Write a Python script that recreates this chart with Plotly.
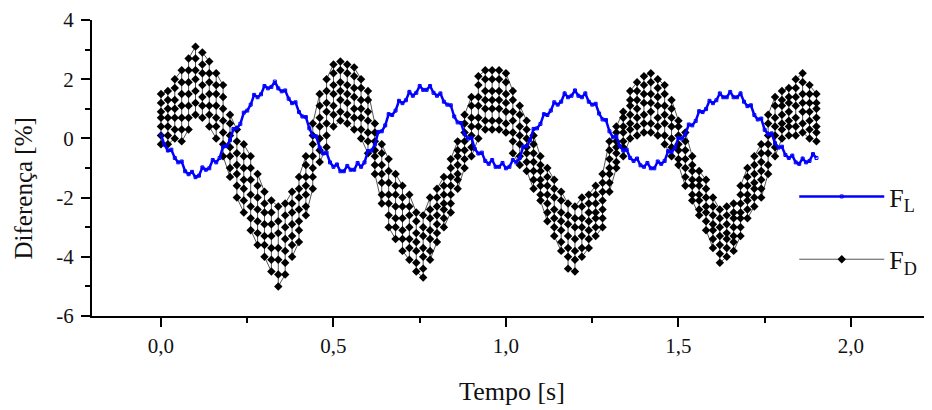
import plotly.graph_objects as go

# ---------------- data ----------------
fl_t_step = 0.01          # F_L sampled every 0.01 s, from t = 0
fl_values = [
    0.12, -0.21, -0.41, -0.38, -0.66, -0.81, -0.78, -1.11, -1.21, -1.13,
    -1.31, -1.26, -0.98, -1.06, -1.01, -0.73, -0.81, -0.66, -0.28, -0.26,
    -0.06, 0.32, 0.34, 0.49, 0.87, 0.94, 1.14, 1.47, 1.39, 1.49,
    1.77, 1.69, 1.74, 1.92, 1.69, 1.59, 1.62, 1.34, 1.19, 1.22,
    0.89, 0.74, 0.72, 0.34, 0.09, 0.07, -0.31, -0.51, -0.48, -0.81,
    -0.96, -0.88, -1.11, -1.11, -0.93, -1.06, -1.06, -0.83, -0.96, -0.81,
    -0.43, -0.41, -0.21, 0.22, 0.24, 0.44, 0.82, 0.79, 0.94, 1.27,
    1.19, 1.29, 1.57, 1.44, 1.54, 1.77, 1.64, 1.64, 1.77, 1.54,
    1.44, 1.52, 1.24, 1.14, 1.12, 0.74, 0.54, 0.52, 0.14, -0.01,
    0.02, -0.36, -0.51, -0.48, -0.76, -0.86, -0.73, -0.96, -0.96, -0.83,
    -1.01, -0.96, -0.73, -0.81, -0.66, -0.28, -0.26, -0.06, 0.32, 0.34,
    0.49, 0.82, 0.79, 0.94, 1.22, 1.14, 1.24, 1.52, 1.39, 1.44,
    1.62, 1.44, 1.39, 1.52, 1.24, 1.14, 1.17, 0.84, 0.64, 0.62,
    0.24, 0.04, 0.07, -0.26, -0.41, -0.38, -0.66, -0.76, -0.68, -0.91,
    -0.96, -0.83, -1.01, -1.01, -0.78, -0.86, -0.76, -0.43, -0.46, -0.31,
    0.02, -0.01, 0.14, 0.47, 0.44, 0.59, 0.92, 0.89, 0.99, 1.27,
    1.19, 1.29, 1.52, 1.39, 1.39, 1.57, 1.39, 1.39, 1.52, 1.24,
    1.09, 1.12, 0.79, 0.64, 0.67, 0.29, 0.14, 0.17, -0.16, -0.31,
    -0.28, -0.56, -0.66, -0.58, -0.81, -0.86, -0.68, -0.81, -0.76, -0.53,
    -0.66,
]

fd_t_step = 0.02          # F_D: samples grouped in columns every 0.02 s, from t = 0
fd_columns = [  # each column listed top -> bottom
    [1.5, 1.2, 0.9, 0.7, 0.4, 0.1, -0.2], [1.6, 1.3, 1.0, 0.7, 0.4, 0.1, -0.2],
    [2.0, 1.7, 1.3, 1.0, 0.7, 0.3, 0.0], [2.3, 1.9, 1.5, 1.1, 0.7, 0.3, -0.1],
    [2.7, 2.3, 1.9, 1.5, 1.1, 0.7, 0.3], [3.1, 2.7, 2.3, 2.0, 1.6, 1.2, 0.8],
    [2.9, 2.5, 2.2, 1.8, 1.4, 1.1, 0.7], [2.6, 2.2, 1.9, 1.5, 1.1, 0.8, 0.4],
    [2.2, 1.8, 1.5, 1.1, 0.7, 0.4, 0.0], [1.8, 1.4, 1.0, 0.6, 0.2, -0.2, -0.6],
    [0.8, 0.5, 0.1, -0.3, -0.6, -1.0, -1.3], [0.3, -0.1, -0.5, -0.9, -1.2, -1.6, -2.0],
    [-0.2, -0.6, -1.0, -1.4, -1.7, -2.1, -2.5], [-0.6, -1.0, -1.4, -1.9, -2.3, -2.7, -3.1],
    [-1.2, -1.6, -2.0, -2.4, -2.8, -3.2, -3.6], [-1.8, -2.2, -2.5, -2.9, -3.3, -3.6, -4.0],
    [-2.1, -2.5, -2.9, -3.3, -3.7, -4.1, -4.5], [-2.3, -2.8, -3.2, -3.7, -4.1, -4.6, -5.0],
    [-2.2, -2.6, -3.0, -3.4, -3.8, -4.2, -4.6], [-1.8, -2.2, -2.5, -2.9, -3.3, -3.6, -4.0],
    [-1.3, -1.7, -2.0, -2.4, -2.8, -3.1, -3.5], [-0.6, -0.9, -1.3, -1.6, -1.9, -2.3, -2.6],
    [0.5, 0.1, -0.2, -0.6, -1.0, -1.3, -1.7], [1.5, 1.1, 0.7, 0.4, 0.0, -0.4, -0.8],
    [2.0, 1.6, 1.2, 0.9, 0.5, 0.1, -0.3], [2.5, 2.2, 1.8, 1.5, 1.1, 0.8, 0.4],
    [2.6, 2.3, 1.9, 1.6, 1.3, 0.9, 0.6], [2.5, 2.2, 1.8, 1.5, 1.2, 0.8, 0.5],
    [2.4, 2.1, 1.7, 1.4, 1.0, 0.7, 0.3], [2.0, 1.7, 1.3, 1.0, 0.7, 0.3, 0.0],
    [1.6, 1.3, 0.9, 0.6, 0.2, -0.1, -0.5], [0.5, 0.2, -0.1, -0.4, -0.6, -0.9, -1.2],
    [-0.2, -0.5, -0.9, -1.2, -1.5, -1.9, -2.2], [-0.7, -1.1, -1.5, -1.9, -2.2, -2.6, -3.0],
    [-1.2, -1.6, -1.9, -2.3, -2.7, -3.0, -3.4], [-1.6, -2.0, -2.3, -2.7, -3.1, -3.4, -3.8],
    [-1.9, -2.3, -2.6, -3.0, -3.4, -3.7, -4.1], [-2.5, -2.8, -3.2, -3.5, -3.8, -4.2, -4.5],
    [-2.6, -3.0, -3.3, -3.7, -4.0, -4.4, -4.7], [-2.0, -2.4, -2.7, -3.1, -3.4, -3.8, -4.1],
    [-1.7, -2.0, -2.3, -2.6, -2.9, -3.2, -3.5], [-1.3, -1.6, -1.9, -2.2, -2.4, -2.7, -3.0],
    [-0.7, -1.0, -1.3, -1.6, -1.9, -2.2, -2.5], [-0.1, -0.4, -0.6, -0.9, -1.2, -1.4, -1.7],
    [0.8, 0.5, 0.2, -0.1, -0.4, -0.7, -1.0], [1.4, 1.1, 0.7, 0.4, 0.1, -0.3, -0.6],
    [2.1, 1.8, 1.4, 1.1, 0.7, 0.4, 0.0], [2.3, 2.0, 1.6, 1.3, 1.0, 0.6, 0.3],
    [2.3, 2.0, 1.6, 1.3, 1.0, 0.6, 0.3], [2.3, 2.0, 1.6, 1.3, 1.0, 0.6, 0.3],
    [2.2, 1.9, 1.5, 1.2, 0.9, 0.5, 0.2], [1.6, 1.3, 0.9, 0.6, 0.2, -0.1, -0.5],
    [1.1, 0.8, 0.4, 0.1, -0.2, -0.6, -0.9], [0.6, 0.3, 0.0, -0.3, -0.5, -0.8, -1.1],
    [0.1, -0.2, -0.5, -0.8, -1.1, -1.4, -1.7], [-0.6, -0.9, -1.1, -1.4, -1.6, -1.9, -2.1],
    [-1.0, -1.3, -1.6, -1.9, -2.2, -2.5, -2.8], [-1.4, -1.7, -2.0, -2.4, -2.7, -3.0, -3.3],
    [-1.8, -2.1, -2.5, -2.8, -3.1, -3.5, -3.8], [-2.2, -2.6, -2.9, -3.3, -3.7, -4.0, -4.4],
    [-2.3, -2.7, -3.0, -3.4, -3.8, -4.1, -4.5], [-2.0, -2.3, -2.7, -3.0, -3.3, -3.7, -4.0],
    [-1.9, -2.2, -2.5, -2.8, -3.1, -3.4, -3.7], [-1.6, -1.9, -2.2, -2.5, -2.7, -3.0, -3.3],
    [-1.2, -1.5, -1.8, -2.1, -2.4, -2.7, -3.0], [-0.1, -0.4, -0.7, -1.0, -1.2, -1.5, -1.8],
    [0.4, 0.2, -0.1, -0.3, -0.5, -0.8, -1.0], [0.9, 0.7, 0.4, 0.2, -0.1, -0.3, -0.6],
    [1.6, 1.3, 1.1, 0.8, 0.5, 0.3, 0.0], [1.9, 1.6, 1.3, 1.0, 0.7, 0.4, 0.1],
    [2.1, 1.8, 1.5, 1.2, 0.8, 0.5, 0.2], [2.2, 1.9, 1.5, 1.2, 0.9, 0.5, 0.2],
    [2.0, 1.7, 1.4, 1.1, 0.7, 0.4, 0.1], [1.8, 1.5, 1.1, 0.8, 0.5, 0.1, -0.2],
    [1.3, 1.0, 0.7, 0.4, 0.0, -0.3, -0.6], [0.6, 0.4, 0.1, -0.2, -0.4, -0.7, -0.9],
    [0.2, -0.1, -0.4, -0.7, -1.0, -1.3, -1.6], [-0.6, -0.9, -1.1, -1.4, -1.6, -1.9, -2.1],
    [-1.1, -1.4, -1.6, -1.9, -2.1, -2.4, -2.6], [-1.4, -1.7, -2.0, -2.3, -2.5, -2.8, -3.1],
    [-2.0, -2.3, -2.6, -2.9, -3.1, -3.4, -3.7], [-2.4, -2.7, -3.0, -3.3, -3.6, -3.9, -4.2],
    [-2.3, -2.6, -2.9, -3.2, -3.4, -3.7, -4.0], [-2.2, -2.5, -2.7, -3.0, -3.3, -3.5, -3.8],
    [-1.6, -1.9, -2.2, -2.5, -2.7, -3.0, -3.3], [-1.0, -1.3, -1.6, -1.9, -2.1, -2.4, -2.7],
    [-0.6, -0.9, -1.2, -1.5, -1.7, -2.0, -2.3], [-0.2, -0.5, -0.8, -1.1, -1.4, -1.7, -2.0],
    [0.8, 0.5, 0.1, -0.2, -0.5, -0.9, -1.2], [1.4, 1.1, 0.7, 0.4, 0.1, -0.3, -0.6],
    [1.6, 1.3, 1.1, 0.8, 0.5, 0.3, 0.0], [1.7, 1.4, 1.2, 0.9, 0.6, 0.4, 0.1],
    [2.0, 1.7, 1.4, 1.1, 0.7, 0.4, 0.1], [2.2, 1.9, 1.5, 1.2, 0.9, 0.5, 0.2],
    [1.8, 1.5, 1.2, 0.9, 0.6, 0.3, 0.0], [1.5, 1.2, 1.0, 0.7, 0.4, 0.2, -0.1],
]

x_tick_vals = [0.0, 0.5, 1.0, 1.5, 2.0]
x_tick_text = ["0,0", "0,5", "1,0", "1,5", "2,0"]
x_minor_vals = [0.25, 0.75, 1.25, 1.75, 2.25]
y_tick_vals = [-6, -4, -2, 0, 2, 4]
y_tick_text = ["-6", "-4", "-2", "0", "2", "4"]
y_minor_vals = [-5, -3, -1, 1, 3]

# ---------------- build traces ----------------
fl_t = [round(i * fl_t_step, 4) for i in range(len(fl_values))]

fd_x, fd_y = [], []
for i, col in enumerate(fd_columns):
    vals = list(reversed(col)) if i % 2 == 0 else col
    for v in vals:
        fd_x.append(round(i * fd_t_step, 4))
        fd_y.append(v)

FONT = "Liberation Serif, Times New Roman, serif"
TXT = "#111111"

fig = go.Figure()
fig.add_trace(go.Scatter(
    x=fd_x, y=fd_y, mode="lines+markers", name="F<sub>D</sub>",
    line=dict(color="#555555", width=1),
    marker=dict(symbol="diamond", size=6.5, color="black"),
    legendgroup="d", legendrank=2,
))
fig.add_trace(go.Scatter(
    x=fl_t, y=fl_values, mode="lines+markers", name="F<sub>L</sub>",
    line=dict(color="#0000ff", width=2.5),
    marker=dict(symbol="square-open", size=3, color="#0000ff"),
    legendgroup="l", legendrank=1,
))

axis_common = dict(
    showline=True, linecolor="black", linewidth=2, mirror=False,
    ticks="outside", ticklen=9, tickwidth=2, tickcolor="black",
    showgrid=False, zeroline=False,
    tickfont=dict(family=FONT, size=21, color=TXT),
    ticklabeloverflow="allow",
)

fig.update_layout(
    width=924, height=402,
    margin=dict(l=84, r=0, t=9, b=94),
    paper_bgcolor="white", plot_bgcolor="white",
    font=dict(family=FONT, color=TXT),
    xaxis=dict(
        range=[-0.2, 2.235], tickmode="array",
        tickvals=x_tick_vals, ticktext=x_tick_text, ticklabelstandoff=1,
        minor=dict(tickmode="array", tickvals=x_minor_vals, ticks="outside",
                   ticklen=5, tickwidth=2, tickcolor="black"),
        title=dict(text="Tempo [s]", font=dict(family=FONT, size=26, color=TXT), standoff=25),
        **axis_common,
    ),
    yaxis=dict(
        range=[-6, 4], tickmode="array",
        tickvals=y_tick_vals, ticktext=y_tick_text, ticklabelstandoff=3,
        minor=dict(tickmode="array", tickvals=y_minor_vals, ticks="outside",
                   ticklen=5, tickwidth=2, tickcolor="black"),
        **axis_common,
    ),
    annotations=[dict(
        text="Diferença [%]", textangle=-90, showarrow=False,
        xref="paper", yref="paper", x=-0.0821, y=0.431,
        xanchor="center", yanchor="middle",
        font=dict(family=FONT, size=25, color=TXT),
    )],
    legend=dict(
        x=0.836, y=0.483, xanchor="left", yanchor="top",
        bgcolor="rgba(0,0,0,0)", font=dict(family=FONT, size=26, color=TXT),
        traceorder="grouped", tracegroupgap=26, itemwidth=85,
    ),
    showlegend=True,
)

fig.write_html("out.html", config={"displayModeBar": False})
